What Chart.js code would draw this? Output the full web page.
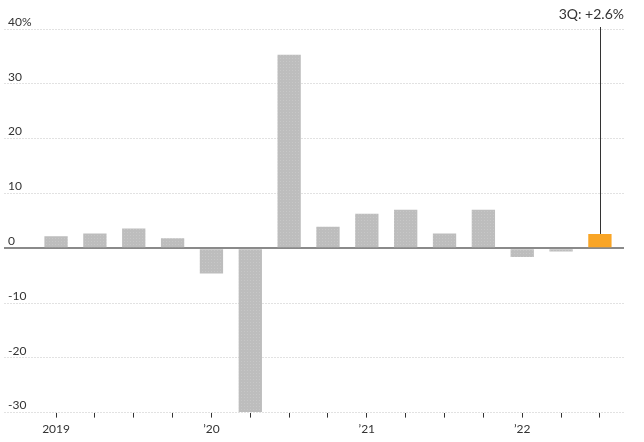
<!DOCTYPE html>
<html>
<head>
<meta charset="utf-8">
<script src="https://cdn.jsdelivr.net/npm/chart.js@4"></script>
<style>
  html, body { margin: 0; padding: 0; background: #fff; }
  #wrap { width: 644px; height: 442px; }
</style>
</head>
<body>
<div id="wrap"><canvas id="myChart"></canvas></div>
<script>
// quarterly GDP change, annualized, 2019 Q1 .. 2022 Q3
const quarters = ['2019Q1', '2019Q2', '2019Q3', '2019Q4', '2020Q1', '2020Q2', '2020Q3', '2020Q4',
  '2021Q1', '2021Q2', '2021Q3', '2021Q4', '2022Q1', '2022Q2', '2022Q3'];
const growth = [2.2, 2.7, 3.6, 1.8, -4.6, -29.9, 35.3, 3.9, 6.3, 7.0, 2.7, 7.0, -1.6, -0.6, 2.6];
const xLabels = ['2019', '', '', '', '\u201920', '', '', '', '\u201921', '', '', '', '\u201922', '', ''];
const yTicks = [-30, -20, -10, 0, 10, 20, 30, 40];
const callout = '3Q: +2.6%';

const FONT = 'Lato, sans-serif';

function dotPattern(base, dot) {
  const c = document.createElement('canvas');
  c.width = 3;
  c.height = 3;
  const g = c.getContext('2d');
  g.fillStyle = base;
  g.fillRect(0, 0, 3, 3);
  g.fillStyle = dot;
  g.fillRect(1, 1, 1, 1);
  return g.createPattern(c, 'repeat');
}

const grayFill = dotPattern('#bdbdbd', '#c7c7c7');
const last = growth.length - 1;

const calloutPlugin = {
  id: 'callout',
  afterDatasetsDraw(chart) {
    const ctx = chart.ctx;
    const xs = chart.scales.x;
    const ys = chart.scales.y;
    const x = Math.round(xs.getPixelForValue(last)) + 0.5;
    ctx.save();
    ctx.strokeStyle = '#333';
    ctx.lineWidth = 1;
    ctx.beginPath();
    ctx.moveTo(x, chart.chartArea.top - 2);
    ctx.lineTo(x, ys.getPixelForValue(growth[last]));
    ctx.stroke();
    ctx.fillStyle = '#333';
    ctx.font = '14px ' + FONT;
    ctx.textAlign = 'right';
    ctx.textBaseline = 'alphabetic';
    ctx.fillText(callout, chart.chartArea.right, 19);
    ctx.restore();
  },
};

const chartConfig = {
  type: 'bar',
  data: {
    datasets: [
      {
        data: growth.map((v, i) => ({ x: i, y: v })),
        backgroundColor: growth.map((v, i) => (i === last ? '#f9a526' : grayFill)),
        borderWidth: 0,
        barPercentage: 0.6,
        categoryPercentage: 1,
      },
    ],
  },
  options: {
    responsive: true,
    maintainAspectRatio: false,
    animation: false,
    layout: { padding: { left: -4, right: 20, top: 29, bottom: 2 } },
    plugins: {
      legend: { display: false },
      tooltip: { enabled: false },
    },
    scales: {
      x: {
        type: 'linear',
        offset: false,
        min: -1.34,
        max: 14.62,
        afterBuildTicks: (scale) => {
          scale.ticks = quarters.map((q, i) => ({ value: i }));
        },
        grid: {
          display: true,
          offset: false,
          drawOnChartArea: false,
          drawTicks: true,
          tickLength: 5,
          tickColor: '#333',
          tickWidth: 1,
        },
        border: { display: false },
        ticks: {
          autoSkip: false,
          maxRotation: 0,
          padding: 4,
          color: '#333',
          font: { family: FONT, size: 12 },
          callback: (v) => xLabels[v] || '',
        },
      },
      y: {
        min: -30,
        max: 40,
        afterBuildTicks: (scale) => {
          scale.ticks = yTicks.map((v) => ({ value: v }));
        },
        border: {
          display: false,
          dash: (c) => (c.tick && c.tick.value === 0 ? [] : [2, 1]),
        },
        grid: {
          drawTicks: false,
          color: (c) => (c.tick && c.tick.value === 0 ? '#8a8a8a' : '#e2e2e2'),
          lineWidth: (c) => (c.tick && c.tick.value === 0 ? 2 : 1),
        },
        ticks: {
          mirror: true,
          padding: 4,
          labelOffset: -7,
          color: '#333',
          font: { family: FONT, size: 12 },
          callback: (v) => (v === 40 ? v + '%' : String(v)),
        },
      },
    },
  },
  plugins: [calloutPlugin],
};

const myChart = new Chart(document.getElementById('myChart'), chartConfig);
</script>
</body>
</html>
